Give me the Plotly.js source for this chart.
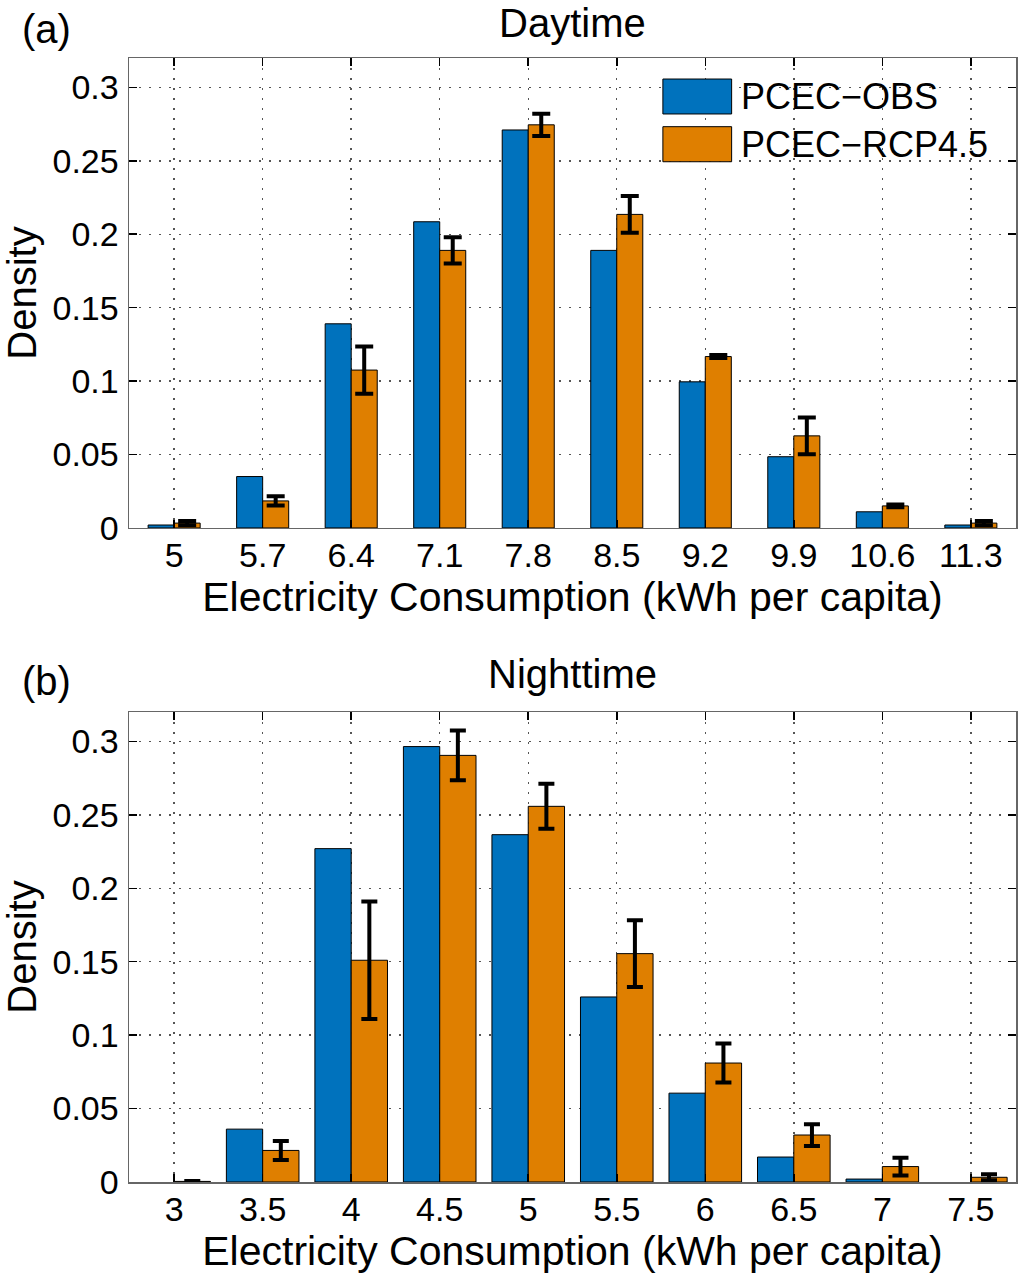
<!DOCTYPE html>
<html>
<head>
<meta charset="utf-8">
<script src="https://cdn.plot.ly/plotly-3.0.1.min.js"></script>
<style>
  html, body { margin: 0; padding: 0; background: #fff; }
  #chart { width: 1020px; height: 1274px; }
</style>
</head>
<body>
<div id="chart"></div>
<script>
// Daytime bins and densities
const dayBins = ['5', '5.7', '6.4', '7.1', '7.8', '8.5', '9.2', '9.9', '10.6', '11.3'];
const dayObs = [0.002, 0.035, 0.139, 0.2085, 0.271, 0.189, 0.0995, 0.0485, 0.011, 0.002];
const dayRcp = [0.0033, 0.0184, 0.1075, 0.189, 0.2745, 0.2135, 0.1167, 0.0627, 0.015, 0.0033];
const dayErr = [0.0014, 0.0032, 0.0161, 0.009, 0.0076, 0.0125, 0.001, 0.0125, 0.0009, 0.0014];

// Nighttime bins and densities
const nightBins = ['3', '3.5', '4', '4.5', '5', '5.5', '6', '6.5', '7', '7.5'];
const nightObs = [0, 0.036, 0.227, 0.2965, 0.2365, 0.126, 0.0605, 0.017, 0.002, 0];
const nightRcp = [0.0004, 0.0215, 0.151, 0.2905, 0.2558, 0.1555, 0.081, 0.032, 0.0105, 0.0032];
const nightErr = [0.0003, 0.0065, 0.040, 0.017, 0.0153, 0.0227, 0.0133, 0.0074, 0.0061, 0.002];

const seriesNames = ['PCEC\u2212OBS', 'PCEC\u2212RCP4.5'];
const blue = '#0072BD';
const orange = '#DF7F00';
const font = 'Liberation Sans, Arial, Helvetica, sans-serif';

// no outline on empty bins, so a zero bar stays invisible
const outline = vals => ({ color: '#000', width: vals.map(v => (v > 0 ? 1 : 0)) });

function pair(bins, obs, rcp, err, xa, ya, w, errW) {
  return [
    {
      x: bins, y: obs, name: seriesNames[0], type: 'bar',
      xaxis: xa, yaxis: ya, width: w, offset: -w,
      marker: { color: blue, line: outline(obs) },
      showlegend: false
    },
    {
      x: bins, y: rcp, name: seriesNames[1], type: 'bar',
      xaxis: xa, yaxis: ya, width: w, offset: 0,
      marker: { color: orange, line: outline(rcp) },
      error_y: { type: 'data', array: err, visible: true, color: '#000', thickness: 4, width: errW },
      showlegend: false
    }
  ];
}

const traces = [
  ...pair(dayBins, dayObs, dayRcp, dayErr, 'x', 'y', 0.294, 9),
  ...pair(nightBins, nightObs, nightRcp, nightErr, 'x2', 'y2', 0.41, 8)
];

const gridStyle = { showgrid: true, gridcolor: '#555', griddash: '2px,8px', gridwidth: 1.4 };
const xCommon = Object.assign({
  type: 'category',
  range: [-0.51, 9.51],
  showline: true, linecolor: '#666', linewidth: 1.5, mirror: 'ticks',
  ticks: 'inside', ticklen: 8, tickwidth: 1.5, tickcolor: '#000',
  tickfont: { family: font, size: 34, color: '#000' },
  ticklabelstandoff: -3,
  zeroline: false, fixedrange: true
}, gridStyle);
const yCommon = Object.assign({
  range: [0, 0.32], dtick: 0.05, tick0: 0,
  showline: true, linecolor: '#666', linewidth: 1.5, mirror: 'ticks',
  ticks: 'inside', ticklen: 8, tickwidth: 1.5, tickcolor: '#000',
  tickfont: { family: font, size: 34, color: '#000' },
  ticklabelstandoff: 2,
  zeroline: false, fixedrange: true
}, gridStyle);
const xTitle = {
  text: 'Electricity Consumption (kWh per capita)',
  font: { family: font, size: 41, color: '#000' }, standoff: 0
};
const yTitle = {
  text: 'Density',
  font: { family: font, size: 40, color: '#000' }, standoff: 13
};

// legend drawn as patches in paper coordinates (the keys in the reference are large)
const legendShapes = [
  { type: 'rect', xref: 'paper', yref: 'paper', x0: 0.6019, x1: 0.6794, y0: 0.9502, y1: 0.9813,
    fillcolor: blue, line: { color: '#000', width: 1 } },
  { type: 'rect', xref: 'paper', yref: 'paper', x0: 0.6019, x1: 0.6794, y0: 0.9077, y1: 0.9389,
    fillcolor: orange, line: { color: '#000', width: 1 } }
];

const ann = (text, x, y, xanchor, size, yanchor) => ({
  text: text, xref: 'paper', yref: 'paper', x: x, y: y,
  xanchor: xanchor, yanchor: yanchor || 'middle', showarrow: false, borderpad: 0,
  font: { family: font, size: size, color: '#000' }
});

const layout = {
  width: 1020, height: 1274,
  margin: { l: 129, r: 4, t: 58, b: 92 },
  paper_bgcolor: '#fff', plot_bgcolor: '#fff',
  barmode: 'group',
  xaxis: Object.assign({}, xCommon, { anchor: 'y', title: xTitle }),
  yaxis: Object.assign({}, yCommon, { anchor: 'x', domain: [0.5819, 1], title: yTitle }),
  xaxis2: Object.assign({}, xCommon, { anchor: 'y2', title: xTitle }),
  yaxis2: Object.assign({}, yCommon, { anchor: 'x2', domain: [0, 0.4181], title: yTitle }),
  shapes: legendShapes,
  annotations: [
    ann('Daytime', 0.5, 1.0514, 'center', 40, 'top'),
    ann('(a)', -0.0928, 1.0258, 'center', 40),
    ann('Nighttime', 0.5, 0.4524, 'center', 40),
    ann('(b)', -0.0928, 0.4457, 'center', 40),
    ann(seriesNames[0], 0.6886, 0.9658, 'left', 36),
    ann(seriesNames[1], 0.6886, 0.9233, 'left', 36)
  ]
};

Plotly.newPlot('chart', traces, layout, { displayModeBar: false, staticPlot: true });
</script>
</body>
</html>
